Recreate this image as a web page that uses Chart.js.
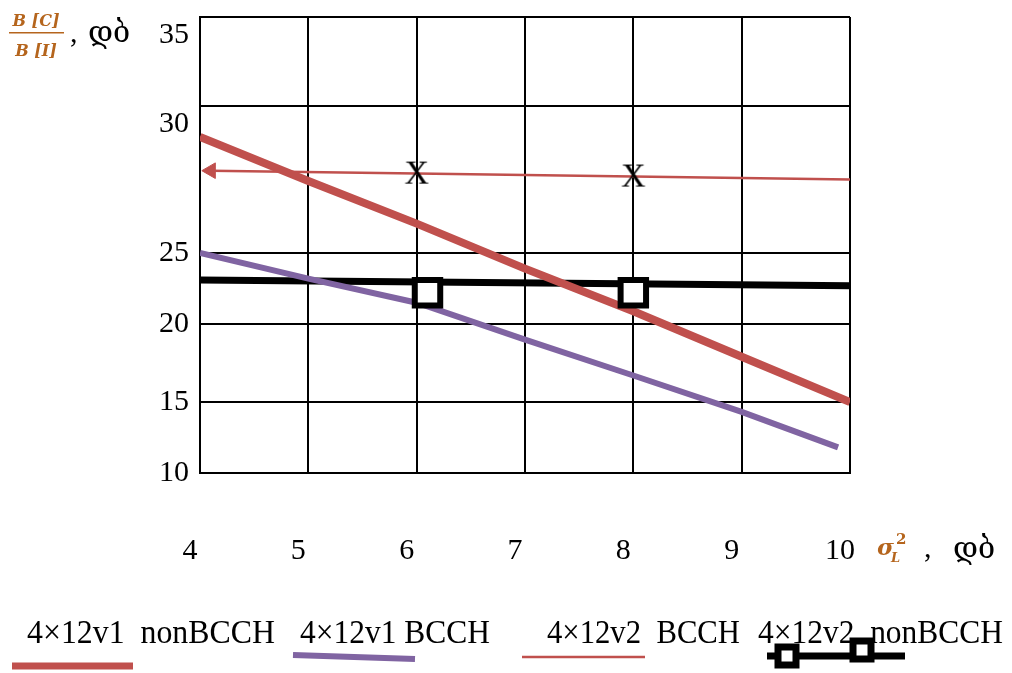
<!DOCTYPE html>
<html>
<head>
<meta charset="utf-8">
<script src="https://cdn.jsdelivr.net/npm/chart.js@4.4.1/dist/chart.umd.min.js"></script>
<style>
    body { margin: 0; background: #fff; }
</style>
</head>
<body>
<canvas id="myChart" width="1012" height="673"></canvas>
<script>
var xTicks = [4, 5, 6, 7, 8, 9, 10];
var yTicks = [10, 15, 20, 25, 30, 35];

var seriesNames = ['4×12v1  nonBCCH', '4×12v1 BCCH', '4×12v2  BCCH', '4×12v2  nonBCCH'];

var v1NonX = [4, 5, 6, 7, 8, 9, 10];
var v1NonY = [28.95, 27.45, 26.0, 23.9, 20.9, 17.9, 15.0];

var v1BcchX = [4, 5, 6, 7, 8, 9, 9.89];
var v1BcchY = [25.0, 23.2, 21.5, 19.0, 16.7, 14.3, 11.8];

var v2BcchX = [4.1, 6, 8, 10];
var v2BcchY = [27.8, 27.7, 27.6, 27.5];

var v2NonX = [4, 10];
var v2NonY = [23.1, 22.7];
var v2NonMarkX = [6.1, 8.0];
var v2NonMarkY = [22.2, 22.2];

// the y axis in the picture is not evenly spaced, so each band gets its own height
var yBandPx = [71, 78, 71, 147, 89];

var RED = '#C0504D';
var PURPLE = '#8064A2';
var ORANGE = '#b5651d';
var SERIF = '"Liberation Serif", "DejaVu Serif", serif';

function toPoints(xs, ys) {
    var pts = [];
    for (var i = 0; i < xs.length; i++) {
        pts.push({ x: xs[i], y: ys[i] });
    }
    return pts;
}

class UnevenLinearScale extends Chart.LinearScale {
    getPixelForValue(value) {
        if (value === null || value === undefined) return NaN;
        var total = 0;
        for (var i = 0; i < yBandPx.length; i++) total += yBandPx[i];
        var acc = 0;
        for (var i = 0; i < yTicks.length - 1; i++) {
            var a = yTicks[i], b = yTicks[i + 1];
            if (value <= b || i == yTicks.length - 2) {
                acc += (value - a) / (b - a) * yBandPx[i];
                break;
            }
            acc += yBandPx[i];
        }
        return this.getPixelForDecimal(acc / total);
    }
    getValueForPixel(pixel) {
        var total = 0;
        for (var i = 0; i < yBandPx.length; i++) total += yBandPx[i];
        var d = this.getDecimalForPixel(pixel) * total;
        for (var i = 0; i < yBandPx.length; i++) {
            if (d <= yBandPx[i] || i == yBandPx.length - 1) {
                return yTicks[i] + d / yBandPx[i] * (yTicks[i + 1] - yTicks[i]);
            }
            d -= yBandPx[i];
        }
    }
}
UnevenLinearScale.id = 'unevenLinear';
UnevenLinearScale.defaults = Chart.LinearScale.defaults;
Chart.register(UnevenLinearScale);

// serif "X" used as marker on the thin red line
var xMark = document.createElement('canvas');
xMark.width = 34;
xMark.height = 34;
var mctx = xMark.getContext('2d');
mctx.font = '34px ' + SERIF;
mctx.textAlign = 'center';
mctx.textBaseline = 'middle';
mctx.fillStyle = '#000';
mctx.fillText('X', 17, 18);

var axisTitles = {
    id: 'axisTitles',
    afterDraw: function (chart) {
        var ctx = chart.ctx;
        ctx.save();
        // y title
        ctx.fillStyle = ORANGE;
        ctx.font = 'italic bold 16px "DejaVu Serif", serif';
        ctx.textAlign = 'center';
        ctx.textBaseline = 'alphabetic';
        ctx.fillText('B [C]', 36, 26);
        ctx.fillRect(9, 32, 55, 1.5);
        ctx.fillText('B [I]', 36, 56);
        ctx.fillStyle = '#000';
        ctx.font = '30px ' + SERIF;
        ctx.textAlign = 'left';
        ctx.fillText(',', 70, 42);
        ctx.fillText('დბ', 88, 42);
        // x title
        ctx.fillStyle = ORANGE;
        ctx.font = 'italic bold 23px "DejaVu Serif", serif';
        ctx.fillText('σ', 877, 555);
        ctx.font = 'italic bold 13px "DejaVu Serif", serif';
        ctx.fillText('L', 891, 562);
        ctx.font = 'bold 15px "DejaVu Serif", serif';
        ctx.fillText('2', 896, 544);
        ctx.fillStyle = '#000';
        ctx.font = '30px ' + SERIF;
        ctx.fillText(',', 924, 557);
        ctx.fillText('დბ', 953, 558);
        ctx.restore();
    }
};

var legendText = [[27, 248], [300, 190], [547, 193], [758, 245]];

var bottomLegend = {
    id: 'bottomLegend',
    afterDraw: function (chart) {
        var ctx = chart.ctx;
        ctx.save();
        ctx.fillStyle = '#000';
        ctx.font = '34px ' + SERIF;
        ctx.textAlign = 'left';
        ctx.textBaseline = 'alphabetic';
        for (var i = 0; i < seriesNames.length; i++) {
            var w = ctx.measureText(seriesNames[i]).width;
            ctx.save();
            ctx.translate(legendText[i][0], 643);
            ctx.scale(legendText[i][1] / w, 1);
            ctx.fillText(seriesNames[i], 0, 0);
            ctx.restore();
        }
        ctx.lineCap = 'butt';
        ctx.strokeStyle = RED;
        ctx.lineWidth = 7;
        ctx.beginPath(); ctx.moveTo(12, 666); ctx.lineTo(133, 666); ctx.stroke();
        ctx.strokeStyle = PURPLE;
        ctx.lineWidth = 6;
        ctx.beginPath(); ctx.moveTo(293, 655); ctx.lineTo(415, 659); ctx.stroke();
        ctx.strokeStyle = RED;
        ctx.lineWidth = 2.5;
        ctx.beginPath(); ctx.moveTo(522, 657); ctx.lineTo(645, 657); ctx.stroke();
        ctx.strokeStyle = '#000';
        ctx.lineWidth = 7;
        ctx.beginPath(); ctx.moveTo(767, 656); ctx.lineTo(905, 656); ctx.stroke();
        var sq = [[787, 656], [862, 650]];
        for (var i = 0; i < sq.length; i++) {
            ctx.fillStyle = '#fff';
            ctx.fillRect(sq[i][0] - 9, sq[i][1] - 9, 18, 18);
            ctx.strokeRect(sq[i][0] - 9, sq[i][1] - 9, 18, 18);
        }
        ctx.restore();
    }
};

var ctx = document.getElementById('myChart').getContext('2d');
var myChart = new Chart(ctx, {
    type: 'line',
    data: {
        datasets: [{
            label: seriesNames[0],
            data: toPoints(v1NonX, v1NonY),
            borderColor: RED,
            borderWidth: 8,
            pointRadius: 0,
            order: 1
        }, {
            label: seriesNames[1],
            data: toPoints(v1BcchX, v1BcchY),
            borderColor: PURPLE,
            borderWidth: 6,
            pointRadius: 0,
            order: 2
        }, {
            label: seriesNames[2],
            data: toPoints(v2BcchX, v2BcchY),
            borderColor: RED,
            borderWidth: 2.5,
            pointStyle: ['triangle', xMark, xMark, 'circle'],
            pointRadius: [9, 10, 10, 0],
            pointRotation: [270, 0, 0, 0],
            pointBackgroundColor: RED,
            pointBorderColor: RED,
            pointBorderWidth: 1,
            order: 3
        }, {
            label: seriesNames[3],
            data: toPoints(v2NonX, v2NonY),
            borderColor: '#000',
            borderWidth: 7,
            pointRadius: 0,
            order: 4
        }, {
            label: seriesNames[3] + ' markers',
            data: toPoints(v2NonMarkX, v2NonMarkY),
            showLine: false,
            pointStyle: 'rect',
            pointRadius: 18,
            pointBorderWidth: 6,
            pointBorderColor: '#000',
            pointBackgroundColor: '#fff',
            order: 0
        }]
    },
    options: {
        responsive: false,
        animation: false,
        layout: { autoPadding: false, padding: { top: 17, right: 162, bottom: 0, left: 0 } },
        elements: { line: { tension: 0, borderCapStyle: 'butt' } },
        plugins: {
            legend: { display: false },
            tooltip: { enabled: false }
        },
        scales: {
            x: {
                type: 'linear',
                min: xTicks[0],
                max: xTicks[xTicks.length - 1],
                afterBuildTicks: function (scale) {
                    scale.ticks = xTicks.map(function (v) { return { value: v }; });
                },
                ticks: {
                    color: '#000',
                    font: { family: SERIF, size: 30 },
                    padding: 60,
                    labelOffset: -10,
                    maxRotation: 0
                },
                grid: { color: '#000', lineWidth: 2, drawTicks: false },
                border: { color: '#000', width: 2 },
                afterFit: function (s) {
                    s.height = 200;
                    s.paddingLeft = 0;
                    s.paddingRight = 0;
                }
            },
            y: {
                type: 'unevenLinear',
                min: yTicks[0],
                max: yTicks[yTicks.length - 1],
                afterBuildTicks: function (scale) {
                    scale.ticks = yTicks.map(function (v) { return { value: v }; });
                },
                ticks: {
                    color: '#000',
                    font: { family: SERIF, size: 30 },
                    padding: 11,
                    callback: function (v) {
                        // the two top labels sit below their grid lines in the picture
                        if (v >= 30) return ['', String(v)];
                        return String(v);
                    }
                },
                grid: { color: '#000', lineWidth: 2, drawTicks: false },
                border: { color: '#000', width: 2 },
                afterFit: function (s) {
                    s.width = 200;
                    s.paddingTop = 0;
                    s.paddingBottom = 0;
                }
            }
        }
    },
    plugins: [axisTitles, bottomLegend]
});
</script>
</body>
</html>
